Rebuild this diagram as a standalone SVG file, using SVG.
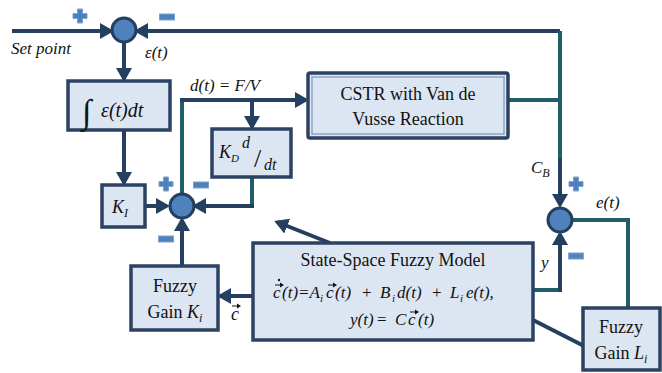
<svg xmlns="http://www.w3.org/2000/svg" width="662" height="373" viewBox="0 0 662 373">
<style>
.box{fill:#dce6f2;stroke:#2b4262;stroke-width:3.5}
.ln{fill:none;stroke:#243f60;stroke-width:4}
.tl{fill:none;stroke:#215e69;stroke-width:4}
.sum{fill:#4f81bd;stroke:#243f60;stroke-width:3}
.sg{fill:#4f81bd;stroke:#7fa3d0;stroke-width:1}
.va{fill:none;stroke:#111;stroke-width:1}
.vh{fill:#111}
text{fill:#111}
.it{font-style:italic}
.mid{text-anchor:middle}
</style>
<defs>
<marker id="ah" markerUnits="userSpaceOnUse" markerWidth="14" markerHeight="16" refX="11" refY="8" orient="auto">
<path d="M0,0 L14,8 L0,16 z" fill="#243f60"/>
</marker>
<g id="plus"><path class="sg" d="M-2.5,-7 h5 v4.5 h4.5 v5 h-4.5 v4.5 h-5 v-4.5 h-4.5 v-5 h4.5 z"/></g>
<g id="minus"><rect class="sg" x="-7.5" y="-3" width="15" height="6"/></g>
<g id="vec"><path class="va" d="M0,0 H7"/><path class="vh" d="M5,-2.5 L9,0 L5,2.5 z"/></g>
</defs>
<g font-family="'Liberation Serif','DejaVu Serif','Noto Serif',Times,serif" font-size="17">
<g id="connectors">
<line class="ln" x1="12" y1="31" x2="111" y2="31" marker-end="url(#ah)"/>
<polyline class="ln" points="560,31 137,31" marker-end="url(#ah)"/>
<polyline class="tl" points="560,31 560,160"/>
<polyline class="tl" points="508,100 560,100"/>
<line class="ln" x1="560" y1="158" x2="560" y2="205" marker-end="url(#ah)"/>
<line class="ln" x1="124" y1="42" x2="124" y2="79" marker-end="url(#ah)"/>
<line class="ln" x1="124" y1="130" x2="124" y2="183" marker-end="url(#ah)"/>
<line class="ln" x1="145" y1="206" x2="167" y2="206" marker-end="url(#ah)"/>
<line class="tl" x1="182" y1="98" x2="182" y2="194"/>
<line class="ln" x1="180" y1="100" x2="306" y2="100" marker-end="url(#ah)"/>
<line class="ln" x1="252" y1="100" x2="252" y2="127" marker-end="url(#ah)"/>
<polyline class="tl" points="252,177 252,206"/>
<polyline class="ln" points="254,206 195,206" marker-end="url(#ah)"/>
<line class="ln" x1="182" y1="266" x2="182" y2="220" marker-end="url(#ah)"/>
<line class="ln" x1="253" y1="296" x2="220" y2="296" marker-end="url(#ah)"/>
<line class="ln" x1="330" y1="243" x2="277" y2="222" marker-end="url(#ah)"/>
<polyline class="tl" points="533,290 560,290"/>
<line class="ln" x1="560" y1="292" x2="560" y2="234" marker-end="url(#ah)"/>
<polyline class="tl" points="571,220 628,220 628,308"/>
<line class="ln" x1="533" y1="320" x2="584" y2="346"/>
</g>

<g id="sum1"><circle class="sum" cx="124" cy="30" r="12"/><use href="#plus" x="80" y="16"/><use href="#minus" x="167" y="17"/></g>
<g id="sum2"><circle class="sum" cx="182" cy="206" r="12"/><use href="#plus" x="166" y="184"/><use href="#minus" x="201" y="185"/><use href="#minus" x="166" y="239"/></g>
<g id="sum3"><circle class="sum" cx="560" cy="220" r="12"/><use href="#plus" x="576" y="184"/><use href="#minus" x="576" y="256"/></g>

<g id="labels">
<text class="it" x="11" y="54">Set point</text>
<text class="it" x="145" y="58">ε(t)</text>
<text class="it" x="190" y="91">d(t) = F/V</text>
<text class="it" x="531" y="173">C<tspan font-size="12" dy="4">B</tspan></text>
<text class="it" x="596" y="208">e(t)</text>
<text class="it" x="541" y="268">y</text>
<text class="it" x="231" y="320" font-size="18">c</text><use href="#vec" x="232" y="306"/>
</g>

<g id="integral"><rect class="box" x="68" y="81" width="102" height="49"/>
<text x="82" y="123" font-size="34">∫</text>
<text class="it" x="101" y="117" font-size="20">ε(t)dt</text></g>

<g id="ki"><rect class="box" x="102" y="185" width="43" height="42"/>
<text class="it" x="112" y="213" font-size="18">K<tspan font-size="12" dy="4">I</tspan></text></g>

<g id="kd"><rect class="box" x="212" y="129" width="79" height="48"/>
<text class="it" x="219" y="158" font-size="18">K<tspan font-size="11" dy="4">D</tspan></text>
<text class="it" x="242" y="148" font-size="16">d</text>
<text x="254" y="167" font-size="26">/</text>
<text class="it" x="264" y="170" font-size="16">dt</text></g>

<g id="cstr"><rect class="box" x="308" y="73" width="200" height="65" rx="2"/>
<rect x="312" y="77" width="192" height="57" fill="none" stroke="#8ea4c2" stroke-width="1.5"/>
<text class="mid" x="408" y="100" font-size="18">CSTR with Van de</text>
<text class="mid" x="408" y="125" font-size="18">Vusse Reaction</text></g>

<g id="fuzzyKi"><rect class="box" x="131" y="266" width="87" height="64"/>
<text class="mid" x="175" y="292" font-size="18">Fuzzy</text>
<text class="mid" x="175" y="318" font-size="18">Gain <tspan class="it">K</tspan><tspan class="it" font-size="12" dy="4">i</tspan></text></g>

<g id="ssfm"><rect class="box" x="253" y="243" width="280" height="97"/>
<text class="mid" x="393" y="266" font-size="18">State-Space Fuzzy Model</text>
<text class="it" y="298" font-size="17"><tspan x="273">c</tspan><tspan x="282">(t)=A</tspan><tspan x="320" dy="4" font-size="11">i</tspan><tspan x="326" dy="-4">c</tspan><tspan x="335">(t)</tspan><tspan x="362" font-style="normal">+</tspan><tspan x="380">B</tspan><tspan x="392" dy="4" font-size="11">i</tspan><tspan x="397" dy="-4">d(t)</tspan><tspan x="432" font-style="normal">+</tspan><tspan x="450">L</tspan><tspan x="460" dy="4" font-size="11">i</tspan><tspan x="466" dy="-4">e(t),</tspan></text>
<use href="#vec" x="275" y="285"/><circle class="vh" cx="279" cy="280" r="1.2"/>
<use href="#vec" x="328" y="285"/>
<text class="it" y="325" font-size="17"><tspan x="350">y(t)</tspan><tspan x="377" font-style="normal">=</tspan><tspan x="395">C</tspan><tspan x="408">c</tspan><tspan x="418">(t)</tspan></text>
<use href="#vec" x="410" y="312"/></g>

<g id="fuzzyLi"><rect class="box" x="583" y="308" width="77" height="62"/>
<text class="mid" x="621" y="333" font-size="18">Fuzzy</text>
<text class="mid" x="621" y="359" font-size="18">Gain <tspan class="it">L</tspan><tspan class="it" font-size="12" dy="4">i</tspan></text></g>
</g>
</svg>
